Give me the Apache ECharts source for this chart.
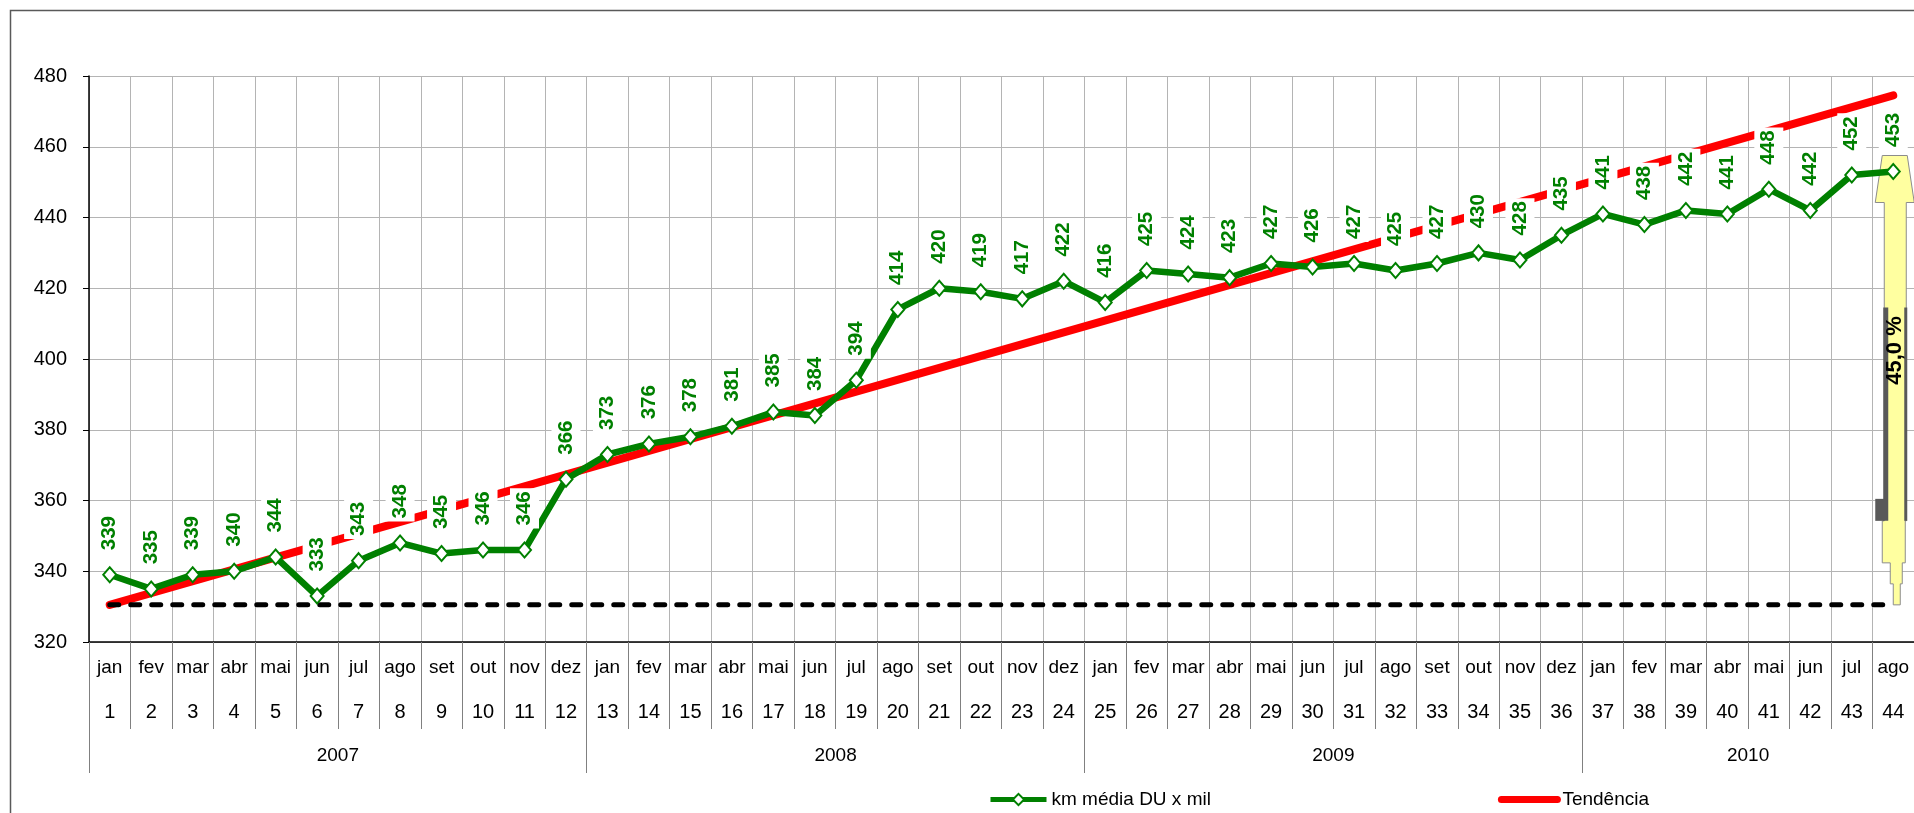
<!DOCTYPE html>
<html><head><meta charset="utf-8">
<script src="https://cdn.jsdelivr.net/npm/echarts@6/dist/echarts.min.js"></script>
<style>html,body{margin:0;padding:0;background:#fff}#c{width:1914px;height:813px}</style>
</head><body><div id="c"></div>
<script>
// ---- data ----
const monthLabels = ['jan','fev','mar','abr','mai','jun','jul','ago','set','out','nov','dez',
  'jan','fev','mar','abr','mai','jun','jul','ago','set','out','nov','dez',
  'jan','fev','mar','abr','mai','jun','jul','ago','set','out','nov','dez',
  'jan','fev','mar','abr','mai','jun','jul','ago'];
const periodLabels = ['1','2','3','4','5','6','7','8','9','10','11','12','13','14','15','16','17','18','19','20','21','22',
  '23','24','25','26','27','28','29','30','31','32','33','34','35','36','37','38','39','40','41','42','43','44'];
const yearLabels = ['2007','2008','2009','2010'];
const yearStartIndex = [0, 12, 24, 36];
const yearLabelPos = [6, 18, 30, 40];
const kmMediaDU = [339,335,339,340,344,333,343,348,345,346,346,366,373,376,378,381,385,384,394,414,420,419,417,422,
  416,425,424,423,427,426,427,425,427,430,428,435,441,438,442,441,448,442,452,453];
const trendPoints = [[0, 330.5], [43, 474.5]];
const baselinePoints = [[0, 330.5], [43, 330.5]];
const growthLabel = '45,0 %';
const seriesNames = ['km média DU x mil', 'Tendência'];

const FONT = 'Liberation Sans, Arial, sans-serif';
const chart = echarts.init(document.getElementById('c'), null, {renderer: 'canvas'});

chart.setOption({
  animation: false,
  backgroundColor: '#fff',
  grid: {left: 89, top: 76, width: 1829, height: 566, containLabel: false},
  legend: {
    left: 983, top: 785, itemWidth: 56, itemHeight: 14, itemGap: 287,
    textStyle: {fontSize: 19, color: '#000', fontFamily: FONT},
    data: [
      {name: seriesNames[0], lineStyle: {width: 5, color: '#008000'}},
      {name: seriesNames[1], itemStyle: {opacity: 0}, lineStyle: {width: 7, color: '#ff0000', cap: 'round'}}
    ]
  },
  xAxis: [
    {
      type: 'category', data: periodLabels, position: 'bottom', boundaryGap: true,
      axisLine: {lineStyle: {color: '#000', width: 1.5}},
      axisTick: {show: true, interval: 0, length: 87, lineStyle: {color: '#808080', width: 1}},
      splitLine: {show: true, interval: 0, lineStyle: {color: '#b4b4b4', width: 1}},
      axisLabel: {
        interval: 0, margin: 4, color: '#000', fontFamily: FONT,
        formatter: (v, i) => '{m|' + monthLabels[i] + '}\n{n|' + v + '}',
        rich: {
          m: {fontSize: 19, lineHeight: 44, color: '#000', fontFamily: FONT},
          n: {fontSize: 20, lineHeight: 44, color: '#000', fontFamily: FONT}
        }
      }
    },
    {
      type: 'category', data: periodLabels, position: 'bottom', boundaryGap: true,
      axisLine: {show: false},
      axisTick: {show: true, length: 131, interval: (i) => yearStartIndex.indexOf(i) >= 0,
        lineStyle: {color: '#808080', width: 1}},
      axisLabel: {show: false}, splitLine: {show: false}
    },
    {
      type: 'value', min: 0, max: 44, interval: 2, position: 'bottom',
      axisLine: {show: false}, axisTick: {show: false}, splitLine: {show: false},
      axisLabel: {
        margin: 104, fontSize: 19, color: '#000', fontFamily: FONT,
        showMinLabel: false, showMaxLabel: false,
        formatter: (v) => { const k = yearLabelPos.indexOf(v); return k >= 0 ? yearLabels[k] : ''; }
      }
    }
  ],
  yAxis: {
    type: 'value', min: 320, max: 480, interval: 20,
    axisLine: {show: true, lineStyle: {color: '#000', width: 1.5}},
    axisTick: {show: true, length: 6, lineStyle: {color: '#000'}},
    splitLine: {show: true, lineStyle: {color: '#b4b4b4', width: 1}},
    axisLabel: {fontSize: 20, color: '#000', margin: 22, fontFamily: FONT}
  },
  series: [
    {
      name: seriesNames[1], type: 'line', data: trendPoints, z: 2, silent: true,
      symbol: 'none', color: '#ff0000',
      lineStyle: {color: '#ff0000', width: 8, cap: 'round'}
    },
    {
      name: 'base', type: 'line', data: baselinePoints, z: 3, silent: true,
      symbol: 'none', color: '#000',
      lineStyle: {color: '#000', width: 5, type: [9, 12], cap: 'round'}
    },
    {
      name: seriesNames[0], type: 'line', data: kmMediaDU, z: 4, silent: true,
      color: '#008000',
      lineStyle: {color: '#008000', width: 6.5},
      symbol: 'diamond', symbolSize: [13, 15],
      itemStyle: {color: '#fff', borderColor: '#008000', borderWidth: 2},
      label: {
        show: true, position: 'top', distance: 13, rotate: 90,
        align: 'left', verticalAlign: 'middle',
        color: '#008000', fontWeight: 'bold', fontSize: 20.5, fontFamily: FONT,
        backgroundColor: '#fff', padding: [4, 3, 4, 3]
      }
    }
  ]
});

// ---- growth arrow annotation, anchored to data coordinates ----
const lastIdx = kmMediaDU.length - 1;
const pTop = chart.convertToPixel({xAxisIndex: 0, yAxisIndex: 0}, [lastIdx, kmMediaDU[lastIdx]]);
const pBase = chart.convertToPixel({xAxisIndex: 0, yAxisIndex: 0}, [lastIdx, baselinePoints[1][1]]);
const cx = pTop[0], yT = pTop[1] - 16, yB = pBase[1];
const arrowPts = [
  [cx-11, yT], [cx+14, yT], [cx+21, yT+47], [cx+13, yT+47], [cx+13, yB-84], [cx+12, yB-84],
  [cx+12, yB-42], [cx+9, yB-42], [cx+9, yB-21], [cx+7, yB-21], [cx+7, yB], [cx, yB],
  [cx, yB-21], [cx-3, yB-21], [cx-3, yB-42], [cx-11, yB-42], [cx-11, yB-84], [cx-9, yB-84],
  [cx-9, yT+47], [cx-18, yT+47]
];
const boxTop = yT + 152, boxBot = yB - 84;
chart.setOption({
  graphic: [
    {type: 'rect', z: 0, silent: true, shape: {x: 10.5, y: 10.5, width: 2000, height: 900},
      style: {fill: 'none', stroke: '#595959', lineWidth: 1.5}},
    {type: 'polygon', z: 3.5, silent: true, shape: {points: arrowPts},
      style: {fill: '#ffffa0', stroke: '#8c8c8c', lineWidth: 1}},
    {type: 'rect', z: 3.5, silent: true, shape: {x: cx-10, y: boxTop, width: 5, height: boxBot - boxTop},
      style: {fill: '#595959'}},
    {type: 'rect', z: 3.5, silent: true, shape: {x: cx+11, y: boxTop, width: 3, height: boxBot - boxTop},
      style: {fill: '#595959'}},
    {type: 'rect', z: 3.5, silent: true, shape: {x: cx-18, y: yB-106, width: 9, height: 22},
      style: {fill: '#595959'}},
    {type: 'text', z: 3.6, silent: true, x: cx+2, y: yT+195, rotation: Math.PI/2,
      style: {text: growthLabel, font: 'bold 22px ' + FONT, fill: '#000', align: 'center', verticalAlign: 'middle'}}
  ]
});
</script>
</body></html>
